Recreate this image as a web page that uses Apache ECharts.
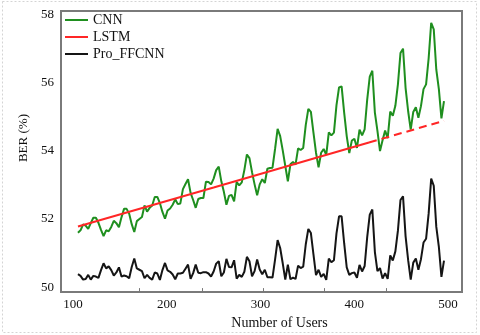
<!DOCTYPE html>
<html><head><meta charset="utf-8">
<script src="https://cdn.jsdelivr.net/npm/echarts@6/dist/echarts.min.js"></script>
<style>html,body{margin:0;padding:0;background:#fff}#c{width:480px;height:335px}</style>
</head><body><div id="c"></div>
<script>
// BER (%) values, one per point
const cnn = [
51.60,51.67,51.84,51.81,51.71,51.88,52.04,52.04,51.89,51.68,51.50,51.67,
51.64,51.77,51.95,51.88,51.76,52.05,52.30,52.30,52.16,51.85,51.62,51.94,
52.00,52.06,52.40,52.22,52.33,52.40,52.65,52.65,52.47,52.21,52.01,52.25,
52.31,52.42,52.58,52.44,52.46,52.88,53.03,53.17,52.77,52.56,52.33,52.59,
52.62,52.62,53.10,53.09,53.02,53.19,53.44,53.54,53.11,52.80,52.42,52.68,
52.71,52.52,53.09,52.99,53.08,53.44,53.90,53.79,53.38,53.02,52.70,53.02,
53.17,53.06,53.48,53.50,53.51,54.06,54.65,54.44,54.02,53.56,53.11,53.61,
53.68,53.60,54.08,54.03,54.09,54.77,55.24,55.15,54.54,53.95,53.52,53.95,
54.06,53.89,54.55,54.46,54.54,55.35,55.87,55.90,55.13,54.44,53.94,54.31,
54.36,54.09,54.63,54.46,54.64,55.51,56.19,56.36,55.13,54.59,54.00,54.32,
54.60,54.38,55.16,55.04,55.33,55.96,56.88,57.01,55.85,55.17,54.63,55.15,
55.29,54.98,55.32,55.82,55.96,56.72,57.77,57.58,56.39,55.82,54.96,55.47];
const pro = [
50.38,50.33,50.22,50.24,50.36,50.22,50.33,50.31,50.27,50.50,50.70,50.55,
50.61,50.50,50.34,50.43,50.58,50.31,50.34,50.32,50.26,50.59,50.84,50.55,
50.51,50.47,50.26,50.36,50.27,50.22,50.43,50.40,50.21,50.50,50.71,50.49,
50.45,50.37,50.23,50.40,50.40,50.42,50.54,50.66,50.24,50.41,50.66,50.42,
50.41,50.44,50.44,50.40,50.31,50.46,50.69,50.76,50.32,50.43,50.83,50.59,
50.58,50.79,50.25,50.36,50.30,50.45,50.89,50.76,50.32,50.47,50.81,50.52,
50.38,50.51,50.29,50.29,50.28,50.81,51.38,51.15,50.70,50.22,50.66,50.23,
50.28,50.24,50.63,50.56,50.60,51.26,51.71,51.59,50.96,50.35,50.51,50.30,
50.39,50.21,50.84,50.73,50.79,51.58,52.08,52.08,51.29,50.58,50.36,50.41,
50.43,50.27,50.65,50.46,50.62,51.47,52.13,52.28,51.03,50.47,50.56,50.25,
50.41,50.24,50.93,50.78,51.05,51.66,52.56,52.67,51.49,50.79,50.22,50.72,
50.84,50.51,50.82,51.31,51.42,52.16,53.19,52.98,51.77,51.18,50.30,50.78];
const lstmUsers  = [105.3, 250, 415.7, 495.7];
const lstmValues = [51.78, 52.93, 54.25, 54.89];
const lstmSolidCount = 3;          // last solid point index+1; dashed continues from index 2
const userStart = 105.3, userStep = 2.73;
const xLabels = [100, 200, 300, 400, 500];
const yLabels = [50, 52, 54, 56, 58];
const xTicks = [171, 238, 303, 368, 434];

const users = cnn.map((_, i) => +(userStart + i * userStep).toFixed(2));
const pair = (xs, ys) => ys.map((v, i) => [xs[i], v]);
const lstmAll = pair(lstmUsers, lstmValues);

const FONT = "'Liberation Serif','Times New Roman',serif";
const chart = echarts.init(document.getElementById('c'), null, {renderer: 'canvas'});
chart.setOption({
  animation: false,
  backgroundColor: '#fff',
  textStyle: {fontFamily: FONT},
  grid: {left: 61, right: 18, top: 11, bottom: 42, show: true,
         borderColor: '#7a7a7a', borderWidth: 2, backgroundColor: 'transparent'},
  graphic: [{type: 'rect', silent: true, z: -1,
    shape: {x: 2.5, y: 1.5, width: 474, height: 331},
    style: {fill: 'none', stroke: '#d4d4d4', lineWidth: 1, lineDash: [2, 2]}}],
  legend: {
    orient: 'vertical', left: 65, top: 13, padding: 0, itemGap: 3,
    itemWidth: 23, itemHeight: 2, icon: 'rect',
    data: ['CNN', 'LSTM', 'Pro_FFCNN'],
    textStyle: {fontFamily: FONT, fontSize: 14, color: '#111', lineHeight: 14}
  },
  xAxis: {
    type: 'value', min: 87.2, max: 514.9,
    name: 'Number of Users', nameLocation: 'middle', nameGap: 18,
    nameTextStyle: {fontFamily: FONT, fontSize: 14, color: '#111', padding: [0, 0, 0, 36]},
    axisLine: {show: false},
    axisTick: {show: true, inside: true, length: 4, customValues: xTicks,
               lineStyle: {color: '#777', width: 1}},
    axisLabel: {customValues: xLabels, margin: 6, fontFamily: FONT, fontSize: 13, color: '#111'},
    splitLine: {show: false}
  },
  yAxis: {
    type: 'value', min: 49.853, max: 58.117,
    name: 'BER (%)', nameLocation: 'middle', nameGap: 31,
    nameTextStyle: {fontFamily: FONT, fontSize: 13, color: '#111', padding: [0, 0, 0, 27]},
    axisLine: {show: false}, axisTick: {show: false},
    axisLabel: {customValues: yLabels, margin: 7, fontFamily: FONT, fontSize: 13, color: '#111'},
    splitLine: {show: false}
  },
  series: [
    {name: 'CNN', type: 'line', data: pair(users, cnn), showSymbol: false, symbol: 'none',
     color: '#1f8f1f', lineStyle: {width: 2, color: '#1f8f1f'}, z: 3},
    {name: 'LSTM', type: 'line', data: lstmAll.slice(0, lstmSolidCount), showSymbol: false, symbol: 'none',
     color: '#ff2626', lineStyle: {width: 2, color: '#ff2626'}, z: 4},
    {name: 'LSTM', type: 'line', data: lstmAll.slice(lstmSolidCount - 1), showSymbol: false, symbol: 'none',
     color: '#ff2626', lineStyle: {width: 2, color: '#ff2626', type: [8, 5]}, z: 4},
    {name: 'Pro_FFCNN', type: 'line', data: pair(users, pro), showSymbol: false, symbol: 'none',
     color: '#151515', lineStyle: {width: 2, color: '#151515'}, z: 3}
  ]
});
</script>
</body></html>
